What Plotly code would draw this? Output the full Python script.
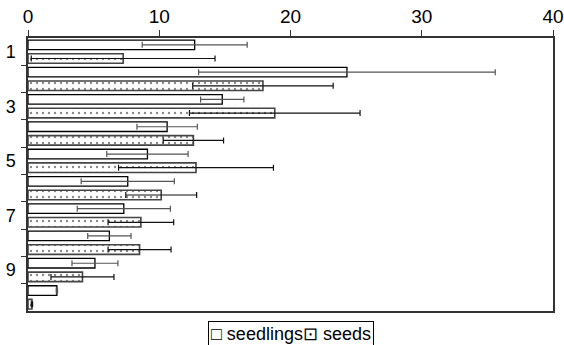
import plotly.graph_objects as go

groups = [1, 2, 3, 4, 5, 6, 7, 8, 9, 10]
seedlings = [12.7, 24.3, 14.8, 10.6, 9.1, 7.6, 7.3, 6.2, 5.1, 2.2]
seedlings_err = [4.0, 11.3, 1.65, 2.3, 3.1, 3.55, 3.55, 1.65, 1.75, 0.05]
seeds = [7.25, 17.9, 18.8, 12.6, 12.8, 10.15, 8.6, 8.5, 4.15, 0.3]
seeds_err = [7.0, 5.35, 6.5, 2.3, 5.9, 2.7, 2.5, 2.4, 2.4, 0.05]
tick_labels = ["1", "3", "5", "7", "9"]
tick_vals = [1, 3, 5, 7, 9]
series_names = ["seedlings", "seeds"]

fig = go.Figure()
fig.add_trace(go.Bar(
    y=groups, x=seedlings, orientation="h", name=series_names[0],
    marker=dict(color="white", line=dict(color="black", width=1.3)),
    error_x=dict(type="data", array=seedlings_err, color="#555", thickness=1.2, width=3),
))
fig.add_trace(go.Bar(
    y=groups, x=seeds, orientation="h", name=series_names[1],
    marker=dict(color="white", line=dict(color="#444", width=1.6),
                pattern=dict(shape=".", fgcolor="#111", bgcolor="white", size=6, solidity=0.12)),
    error_x=dict(type="data", array=seeds_err, color="#111", thickness=1.2, width=3),
))
fig.add_trace(go.Scatter(x=[None], y=[None], yaxis="y2", showlegend=False, hoverinfo="skip"))

fig.update_layout(
    width=564, height=345,
    margin=dict(l=28, r=11, t=38, b=34, autoexpand=False),
    paper_bgcolor="white", plot_bgcolor="white",
    barmode="group", bargap=0.0, bargroupgap=0.3,
    font=dict(family="Liberation Sans, Arial", size=19, color="black"),
    xaxis=dict(side="top", range=[0, 40], tickvals=[0, 10, 20, 30, 40],
               showgrid=False, zeroline=False, showline=True, linecolor="#333",
               linewidth=1.5, mirror=True, ticks="outside", ticklen=6, tickcolor="#333",
               tickfont=dict(size=19)),
    yaxis=dict(range=[10.5, 0.5], tickvals=tick_vals, ticktext=tick_labels,
               showgrid=False, zeroline=False, showline=True, linecolor="#333",
               linewidth=1.5, mirror=True, ticks="", ticklabelstandoff=7,
               tickfont=dict(size=18)),
    yaxis2=dict(range=[10.5, 0.5], overlaying="y", side="left",
                tickvals=[g + 0.5 for g in groups[:-1]], showticklabels=False,
                ticks="outside", ticklen=6, tickcolor="#333", showgrid=False,
                zeroline=False, showline=False),
    showlegend=False,
    annotations=[dict(
        xref="paper", yref="paper", x=0.5, y=-0.037, xanchor="center", yanchor="top",
        text="\u25a1 " + series_names[0] + "\u22a1 " + series_names[1],
        showarrow=False, font=dict(size=18, family="Liberation Sans, Arial"),
        bordercolor="black", borderwidth=1, borderpad=2, bgcolor="white",
    )],
)

fig.write_html("out.html")
